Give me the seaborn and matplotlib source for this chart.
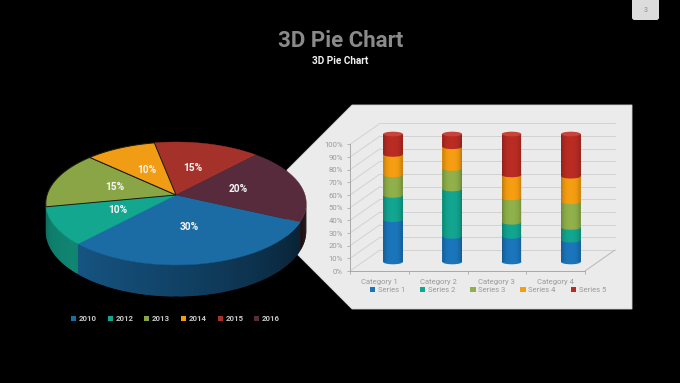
import numpy as np
import matplotlib
matplotlib.use("Agg")
import matplotlib.pyplot as plt
import seaborn as sns
from matplotlib.patches import Polygon, Ellipse, FancyBboxPatch, PathPatch, Patch
from matplotlib.path import Path
from matplotlib.colors import to_rgb

# ---------- data ----------
pie_labels = ["2010", "2012", "2013", "2014", "2015", "2016"]
pie_values = [30, 10, 15, 10, 15, 20]
pie_colors = ["#1b6ba5", "#14a78f", "#89a545", "#f09c14", "#a5322a", "#582b3c"]
categories = ["Category 1", "Category 2", "Category 3", "Category 4"]
series_names = ["Series 1", "Series 2", "Series 3", "Series 4", "Series 5"]
series_1 = [33, 20, 20, 17]
series_2 = [19, 37, 11, 10]
series_3 = [16, 16, 19, 20]
series_4 = [16, 17, 18, 20]
series_5 = [16, 10, 32, 33]
series_colors = ["#1b75bb", "#12a58f", "#8fb04a", "#f59e12", "#b92c24"]
y_ticks = list(range(0, 101, 10))

W, H = 680, 383
sns.set_theme(style="white")
plt.rcParams["font.family"] = ["Roboto", "DejaVu Sans"]
fig = plt.figure(figsize=(W / 100, H / 100), dpi=100, facecolor="black")


def box(x0, y0, x1, y1):
    return [x0 / W, 1 - y1 / H, (x1 - x0) / W, (y1 - y0) / H]


# ---------- page furniture ----------
bg = fig.add_axes([0, 0, 1, 1], zorder=0)
bg.set_xlim(0, W)
bg.set_ylim(H, 0)
bg.axis("off")
bg.add_patch(Polygon([(352, 105), (632, 105), (632, 309), (352, 309), (287, 244), (287, 170)],
                     closed=True, fc="#ebebeb", ec="#d0d0d0", lw=0.6))
bg.add_patch(FancyBboxPatch((632, -10), 27, 30, boxstyle="round,pad=0,rounding_size=2.5",
                            fc="#dcdcdc", ec="none"))
bg.text(645.5, 10, "3", fontsize=5, color="#8c8c8c", ha="center", va="center")
bg.text(340.5, 41, "3D Pie Chart", fontsize=16, fontweight="bold", color="#8a8a8a",
        ha="center", va="center")
bg.text(340, 60.5, "3D Pie Chart", fontsize=7.2, fontweight="bold", color="#f0f0f0",
        ha="center", va="center")

# ---------- right chart : frame ----------
frame = fig.add_axes(box(350, 144.4, 585, 271), zorder=1)
frame.patch.set_alpha(0)
frame.set_xlim(0, 4)
frame.set_ylim(0, 100)
dx, dy = 30 / 58.75, 21 / 1.266
grid_c = "#d2d2d2"
for y in y_ticks:
    frame.plot([dx, 4 + dx], [y + dy, y + dy], color=grid_c, lw=0.7, clip_on=False)
    frame.plot([0, dx], [y, y + dy], color=grid_c, lw=0.7, clip_on=False)
frame.plot([4, 4 + dx], [0, dy], color="#bdbdbd", lw=0.8, clip_on=False)
frame.set_yticks(y_ticks)
frame.set_yticklabels([f"{v}%" for v in y_ticks], fontsize=5.6, color="#9a9a9a")
frame.set_xticks(range(5))
frame.set_xticklabels([])
frame.set_xticks([i + 0.5 for i in range(4)], minor=True)
frame.set_xticklabels(categories, minor=True, fontsize=5.5, color="#9a9a9a")
frame.tick_params(axis="x", which="major", length=2, width=0.6, color="#a8a8a8", bottom=True)
frame.tick_params(axis="x", which="minor", length=0, pad=5.5, bottom=True)
frame.tick_params(axis="y", length=2, width=0.6, color="#a8a8a8", pad=3, left=True)
for s in ("top", "right"):
    frame.spines[s].set_visible(False)
for s in ("left", "bottom"):
    frame.spines[s].set_color("#a8a8a8")
    frame.spines[s].set_linewidth(0.7)
frame.legend(handles=[Patch(fc=c, ec="none", label=n) for c, n in zip(series_colors, series_names)],
             loc="center", bbox_to_anchor=(0.587, -0.15), ncols=5, frameon=False,
             fontsize=5.5, labelcolor="#9a9a9a", handlelength=0.7, handleheight=0.7,
             handletextpad=0.35, columnspacing=1.95, borderpad=0)

# ---------- right chart : cylinders ----------
bars = fig.add_axes(box(363.35, 134, 600.5, 262), zorder=2)
bars.patch.set_alpha(0)
all_series = [series_1, series_2, series_3, series_4, series_5]
BW, CAP = 0.33, 3.6
bottoms = np.zeros(len(categories))
for vals, col in zip(all_series, series_colors):
    sns.barplot(x=categories, y=vals, bottom=bottoms, color=col, width=BW, saturation=1,
                ax=bars, legend=False, zorder=3, linewidth=0, edgecolor="none")
    for i, b in enumerate(bottoms):
        bars.add_patch(Ellipse((i, b), BW, CAP, fc=col, ec="none", zorder=3, clip_on=False))
    bottoms = bottoms + np.array(vals)

shade = np.linspace(-1, 1, 64)
rgba = np.zeros((1, 64, 4))
rgba[0, :, 3] = np.clip(0.24 * np.abs(shade) ** 3, 0, 1)
for i in range(len(categories)):
    t = np.linspace(-1, 1, 40)
    arc = np.column_stack([i + t * BW / 2, -CAP / 2 * np.sqrt(1 - t ** 2)])
    pts = np.vstack([arc, [[i + BW / 2, 100], [i - BW / 2, 100]], arc[:1]])
    im = bars.imshow(rgba, extent=(i - BW / 2, i + BW / 2, -CAP / 2, 100), aspect="auto", zorder=4)
    im.set_clip_path(PathPatch(Path(pts), transform=bars.transData))
    bars.add_patch(Ellipse((i, 100), BW, CAP, fc="#c8433a", ec="none", zorder=5, clip_on=False))
bars.set_xlim(-0.5, 3.5)
bars.set_ylim(0, 100)
bars.axis("off")

# ---------- 3D pie ----------
pie = fig.add_axes([0, 0, 1, 1], zorder=3)
pie.patch.set_alpha(0)
RX, RY, K, CX, CY = 129.0, 60.3, 0.138, 176.0, 195.0
pie.set_xlim(-CX / RX, (W - CX) / RX)
pie.set_ylim((CY - H) / RY, CY / RY)
pie.axis("off")
DEPTH = 0.45


def project(theta_deg, r=1.0):
    th = np.radians(theta_deg)
    x, y = r * np.cos(th), r * np.sin(th)
    w = 1 + K * y
    return x / w, y / w


def shaded(col, f):
    return tuple(min(1, c * f) for c in to_rgb(col))


START = -25.0
edges = START - np.cumsum([0] + pie_values) * 3.6

# side wall, front part of the rim only; strips overlap so no seams appear
for v0, v1, col in zip(edges[:-1], edges[1:], pie_colors):
    for a0 in np.arange(v0, v1 - 0.01, -1.0):
        a1 = max(a0 - 2.0, v1)
        norm = a0 % 360
        if norm < 191 or norm > 352:
            continue
        X0, Y0 = project(a0)
        X1, Y1 = project(a1)
        d0, d1 = DEPTH / (1 + K * np.sin(np.radians(a0))), DEPTH / (1 + K * np.sin(np.radians(a1)))
        f = np.interp(norm, [191, 225, 270, 330, 352], [0.72, 0.80, 0.62, 0.34, 0.28])
        pie.fill([X0, X1, X1, X0], [Y0, Y1, Y1 - d1, Y0 - d0], fc=shaded(col, f), ec="none", lw=0)

# top surface
order = [0, 1, 4, 5, 2, 3]
for idx in order:
    a = np.linspace(edges[idx], edges[idx + 1], 80)
    X, Y = project(a)
    seam = idx in (2, 3)
    pie.fill(np.r_[0, X], np.r_[0, Y], fc=pie_colors[idx],
             ec="#1a1a12" if seam else pie_colors[idx], lw=0.7 if seam else 0.3)
for idx, val in enumerate(pie_values):
    mx, my = project((edges[idx] + edges[idx + 1]) / 2, 0.5)
    pie.text(mx, my, f"{val}%", color="#f5f5f5", fontsize=7.3, fontweight="bold",
             ha="center", va="center")

pie.legend(handles=[Patch(fc=c, ec="none", label=n) for c, n in zip(pie_colors, pie_labels)],
           loc="center", bbox_to_anchor=(175.5 / W, 1 - 318.5 / H), ncols=6, frameon=False,
           labelcolor="#c9c9c9", handlelength=0.65, handleheight=0.65,
           handletextpad=0.35, columnspacing=1.35, borderpad=0,
           prop={"weight": "bold", "size": 5.7})

fig.savefig("out.png", dpi=100, facecolor="black")
